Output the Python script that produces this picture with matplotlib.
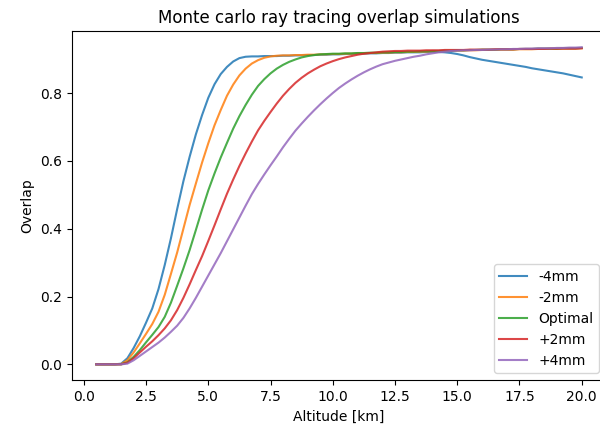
import numpy as np
import matplotlib
matplotlib.use('Agg')
import matplotlib.pyplot as plt

# altitude samples [km], 0.25 km steps
altitude = np.arange(0.5, 20.001, 0.25)

labels = ['-4mm', '-2mm', 'Optimal', '+2mm', '+4mm']

# one row = 2 km (8 samples)
overlap_m4 = [0, 0, 0, 0, 0.002, 0.018, 0.048, 0.083,
              0.123, 0.165, 0.222, 0.293, 0.372, 0.458, 0.540, 0.612,
              0.678, 0.735, 0.786, 0.826, 0.856, 0.877, 0.893, 0.903,
              0.907, 0.908, 0.908, 0.909, 0.909, 0.909, 0.910, 0.910,
              0.911, 0.911, 0.912, 0.912, 0.913, 0.913, 0.914, 0.914,
              0.915, 0.915, 0.916, 0.916, 0.917, 0.917, 0.918, 0.918,
              0.919, 0.919, 0.920, 0.920, 0.920, 0.921, 0.921, 0.921,
              0.920, 0.918, 0.915, 0.911, 0.906, 0.902, 0.898, 0.895,
              0.892, 0.889, 0.886, 0.883, 0.880, 0.877, 0.873, 0.870,
              0.867, 0.864, 0.861, 0.858, 0.854, 0.850, 0.846]

overlap_m2 = [0, 0, 0, 0, 0.001, 0.012, 0.035, 0.062,
              0.090, 0.119, 0.155, 0.205, 0.267, 0.330, 0.400, 0.470,
              0.533, 0.595, 0.652, 0.705, 0.750, 0.792, 0.825, 0.852,
              0.872, 0.887, 0.897, 0.904, 0.908, 0.910, 0.911, 0.911,
              0.912, 0.912, 0.913, 0.913, 0.914, 0.914, 0.915, 0.915,
              0.916, 0.916, 0.917, 0.917, 0.918, 0.918, 0.919, 0.919,
              0.920, 0.920, 0.921, 0.921, 0.922, 0.922, 0.923, 0.923,
              0.924, 0.924, 0.925, 0.925, 0.926, 0.926, 0.927, 0.927,
              0.927, 0.928, 0.928, 0.928, 0.929, 0.929, 0.929, 0.930,
              0.930, 0.930, 0.930, 0.931, 0.931, 0.931, 0.932]

overlap_opt = [0, 0, 0, 0, 0, 0.006, 0.022, 0.042,
               0.065, 0.087, 0.110, 0.140, 0.182, 0.232, 0.283, 0.337,
               0.396, 0.456, 0.513, 0.563, 0.610, 0.653, 0.695, 0.732,
               0.765, 0.795, 0.821, 0.841, 0.858, 0.872, 0.883, 0.892,
               0.899, 0.905, 0.909, 0.912, 0.914, 0.915, 0.916, 0.916,
               0.917, 0.917, 0.918, 0.918, 0.919, 0.919, 0.920, 0.920,
               0.921, 0.921, 0.922, 0.922, 0.923, 0.923, 0.924, 0.924,
               0.925, 0.925, 0.926, 0.926, 0.927, 0.927, 0.928, 0.928,
               0.928, 0.929, 0.929, 0.929, 0.930, 0.930, 0.930, 0.931,
               0.931, 0.931, 0.931, 0.932, 0.932, 0.932, 0.933]

overlap_p2 = [0, 0, 0, 0, 0, 0.005, 0.018, 0.035,
              0.052, 0.068, 0.086, 0.106, 0.130, 0.160, 0.196, 0.236,
              0.278, 0.319, 0.364, 0.410, 0.457, 0.503, 0.545, 0.585,
              0.622, 0.657, 0.690, 0.718, 0.744, 0.769, 0.792, 0.812,
              0.830, 0.845, 0.858, 0.869, 0.879, 0.887, 0.894, 0.900,
              0.905, 0.909, 0.913, 0.916, 0.918, 0.920, 0.922, 0.923,
              0.924, 0.924, 0.925, 0.925, 0.925, 0.926, 0.926, 0.926,
              0.927, 0.927, 0.927, 0.927, 0.928, 0.928, 0.928, 0.928,
              0.929, 0.929, 0.929, 0.929, 0.930, 0.930, 0.930, 0.930,
              0.930, 0.931, 0.931, 0.931, 0.931, 0.931, 0.932]

overlap_p4 = [0, 0, 0, 0, 0, 0.002, 0.012, 0.025,
              0.038, 0.051, 0.064, 0.079, 0.096, 0.114, 0.137, 0.165,
              0.196, 0.229, 0.262, 0.295, 0.328, 0.363, 0.398, 0.433,
              0.468, 0.502, 0.532, 0.560, 0.587, 0.613, 0.640, 0.665,
              0.689, 0.710, 0.730, 0.749, 0.767, 0.784, 0.800, 0.815,
              0.828, 0.840, 0.851, 0.861, 0.870, 0.878, 0.885, 0.890,
              0.895, 0.899, 0.903, 0.907, 0.910, 0.914, 0.917, 0.920,
              0.922, 0.924, 0.925, 0.926, 0.926, 0.927, 0.927, 0.928,
              0.928, 0.929, 0.929, 0.930, 0.930, 0.931, 0.931, 0.932,
              0.932, 0.932, 0.933, 0.933, 0.934, 0.934, 0.935]

series = [overlap_m4, overlap_m2, overlap_opt, overlap_p2, overlap_p4]

fig, ax = plt.subplots(figsize=(6, 4.36), dpi=100)
fig.subplots_adjust(left=0.12, right=1.01, bottom=0.128, top=0.928)

for vals, lab in zip(series, labels):
    ax.plot(altitude, vals, label=lab, alpha=0.85)

ax.set_xlabel('Altitude [km]')
ax.set_ylabel('Overlap')
ax.set_title('Monte carlo ray tracing overlap simulations')
ax.legend(loc='lower right')

fig.savefig('out.png', dpi=100)
